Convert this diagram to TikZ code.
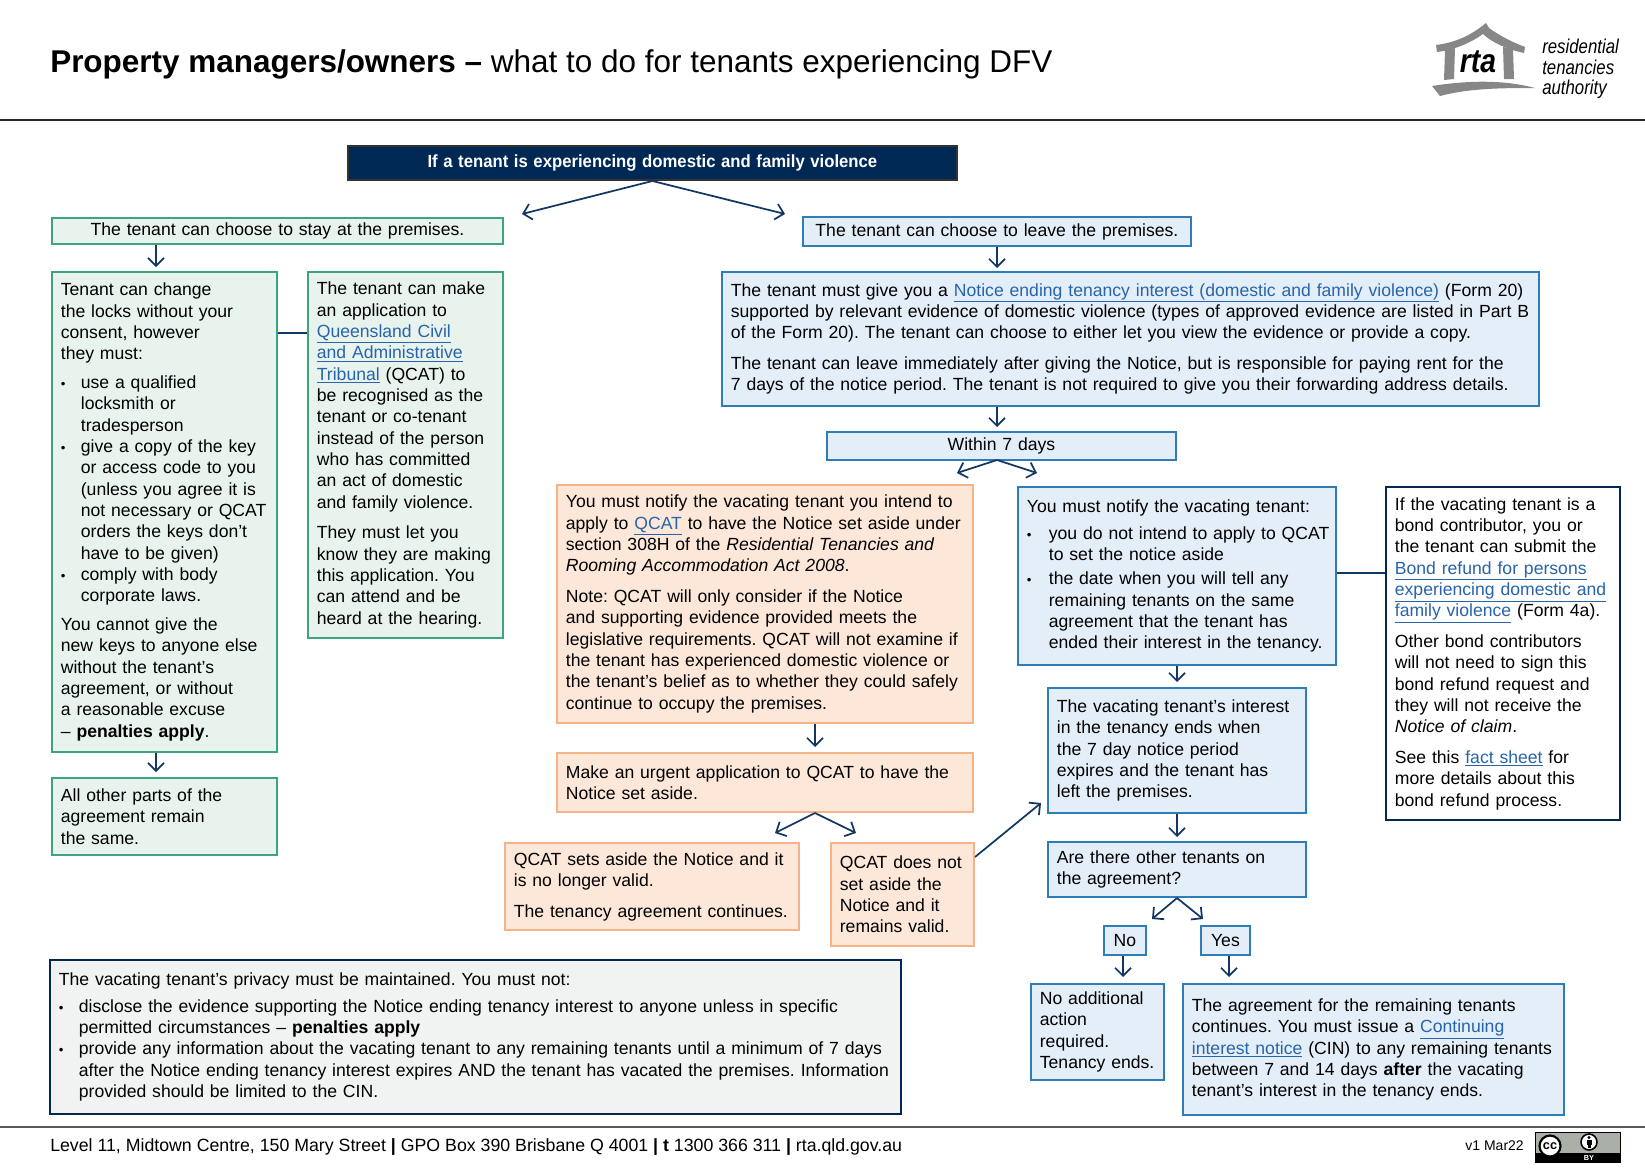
\documentclass[tikz,border=0pt]{standalone}
\usepackage{fontspec}
\setmainfont{Liberation Sans}
\usetikzlibrary{arrows.meta, positioning}
\definecolor{navy1}{RGB}{0, 40, 85}
\definecolor{arrownavy}{RGB}{18, 55, 100}
\definecolor{greenline}{RGB}{60, 165, 125}
\definecolor{greenfill}{RGB}{233, 243, 238}
\definecolor{blueline}{RGB}{45, 125, 185}
\definecolor{bluefill}{RGB}{228, 238, 248}
\definecolor{orangeline}{RGB}{245, 180, 135}
\definecolor{orangefill}{RGB}{252, 231, 217}
\definecolor{greyfill}{RGB}{241, 243, 243}
\definecolor{linkblue}{RGB}{40, 100, 170}
\definecolor{logogrey}{RGB}{135, 135, 135}
\definecolor{badgegrey}{RGB}{170, 175, 168}
\newcommand{\lnk}[1]{\textcolor{linkblue}{\underline{#1}}}
\newcommand{\blt}{\makebox[15pt][l]{\scalebox{0.75}{\textbullet}}}
\newcommand{\ind}{\hspace*{15pt}}
\newcommand{\bltw}{\makebox[16.5pt][l]{\scalebox{0.75}{\textbullet}}}
\newcommand{\indw}{\hspace*{16.5pt}}

\begin{document}
\frenchspacing
\begin{tikzpicture}[
  x=0.75pt, y=-0.75pt,
  sized/.style 2 args={anchor=north west, xshift=-0.8pt, minimum width=#1*0.75pt, minimum height=#2*0.75pt, text width=#1*0.75pt-13.4pt, inner xsep=6.7pt, inner ysep=0pt, align=left, line width=1.5pt, font=\fontsize{13.2}{16}\selectfont},
  greenbox/.style={draw=greenline, fill=greenfill},
  bluebox/.style={draw=blueline, fill=bluefill},
  orangebox/.style={draw=orangeline, fill=orangefill},
  navybox/.style={draw=navy1, fill=greyfill},
  flow/.style={draw=arrownavy, line width=1.3pt, -{Straight Barb[length=6pt,width=12pt]}},
  link/.style={draw=arrownavy, line width=1.3pt}
]
  \useasboundingbox (0,0) rectangle (1645,1174);

  % header
  \node[anchor=west, inner sep=0pt, font=\fontsize{23.6}{26}\selectfont] (title) at (50,64) {\textbf{Property managers/owners --} what to do for tenants experiencing DFV};
  \draw[line width=1pt, black!85] (0,120) -- (1645,120);

  % logo
  \fill[logogrey] (1436,45) .. controls (1460,42) and (1475,32) .. (1486,23) -- (1489,28) .. controls (1500,36) and (1512,42) .. (1525,47) -- (1524,53) .. controls (1505,49) and (1490,41) .. (1483,34) .. controls (1472,42) and (1455,50) .. (1437,52) -- cycle;
  \fill[logogrey] (1445,50) -- (1455,48) -- (1454,79) -- (1444,80) -- cycle;
  \fill[logogrey] (1503,47) -- (1513,49) -- (1514,79) -- (1504,79) -- cycle;
  \fill[logogrey] (1432,86) .. controls (1470,80) and (1505,80) .. (1535,88) .. controls (1505,88) and (1470,88) .. (1440,96) -- cycle;
  \node[inner sep=0pt, font=\fontsize{25}{25}\selectfont\bfseries\itshape] (rtaname) at (1478,62) {\scalebox{0.85}[1]{rta}};
  \node[anchor=north west, inner sep=0pt, align=left, font=\fontsize{15}{15.3}\selectfont\itshape] (rtawords) at (1542,39) {\scalebox{0.84}[1]{residential}\\\scalebox{0.84}[1]{tenancies}\\\scalebox{0.84}[1]{authority}};

  % top of the chart
  \node[sized={609}{34}, draw=black!80, fill=navy1, text=white, align=center] (head) at (348,145) {\scalebox{0.95}[1]{\textbf{If a tenant is experiencing domestic and family violence}}};
  \coordinate (stayend) at (522,214);
  \coordinate (leaveend) at (785,214);
  \draw[flow] (head.south) -- (stayend);
  \draw[flow] (head.south) -- (leaveend);

  % stay side
  \node[sized={451}{26}, greenbox, align=center] (stay) at (52,217) {The tenant can choose to stay at the premises.};
  \node[sized={225}{480}, greenbox] (locks) at (52,271) {
    Tenant can change\\
    the locks without your\\
    consent, however\\
    they must:\\[5.5pt]
    \blt use a qualified\\
    \ind locksmith or\\
    \ind tradesperson\\
    \blt give a copy of the key\\
    \ind or access code to you\\
    \ind (unless you agree it is\\
    \mbox{\ind not necessary or QCAT}\\
    \ind orders the keys don’t\\
    \ind have to be given)\\
    \blt comply with body\\
    \ind corporate laws.\\[5.5pt]
    You cannot give the\\
    new keys to anyone else\\
    without the tenant’s\\
    agreement, or without\\
    a reasonable excuse\\
    -- \textbf{penalties apply}.
  };
  \node[sized={195}{366}, greenbox] (apply) at (308,271) {
    The tenant can make\\
    an application to\\
    \lnk{Queensland Civil}\\
    \lnk{and Administrative}\\
    \lnk{Tribunal} (QCAT) to\\
    be recognised as the\\
    tenant or co-tenant\\
    \mbox{instead of the person}\\
    who has committed\\
    an act of domestic\\
    and family violence.\\[7pt]
    They must let you\\
    \mbox{know they are making}\\
    this application. You\\
    can attend and be\\
    heard at the hearing.
  };
  \node[sized={225}{77}, greenbox] (sameparts) at (52,777) {
    All other parts of the\\
    agreement remain\\
    the same.
  };
  \coordinate (locksin) at (156,267);
  \coordinate (samein) at (156,772);
  \draw[flow] (stay.south -| locksin) -- (locksin);
  \draw[flow] (locks.south -| samein) -- (samein);
  \draw[link] (locks.east |- 0,333) -- (apply.west |- 0,333);

  % leave side
  \node[sized={388}{29}, bluebox, align=center] (leave) at (803,216) {The tenant can choose to leave the premises.};
  \node[sized={817}{134}, bluebox] (form) at (722,271) {
    \mbox{The tenant must give you a \lnk{Notice ending tenancy interest (domestic and family violence)} (Form 20)}\\
    \mbox{supported by relevant evidence of domestic violence (types of approved evidence are listed in Part B}\\
    of the Form 20). The tenant can choose to either let you view the evidence or provide a copy.\\[7pt]
    \mbox{The tenant can leave immediately after giving the Notice, but is responsible for paying rent for the}\\
    \mbox{7 days of the notice period. The tenant is not required to give you their forwarding address details.}
  };
  \node[sized={349}{28}, bluebox, align=center] (within) at (827,431) {Within 7 days};
  \coordinate (formin) at (997,268);
  \coordinate (withinin) at (997,427);
  \coordinate (forkleft) at (957,473);
  \coordinate (forkright) at (1037,473);
  \coordinate (forktop) at (997,460);
  \draw[flow] (leave.south -| formin) -- (formin);
  \draw[flow] (form.south -| withinin) -- (withinin);
  \draw[flow] (forktop) -- (forkleft);
  \draw[flow] (forktop) -- (forkright);

  % orange column
  \node[sized={416}{238}, orangebox] (intend) at (557,484) {
    You must notify the vacating tenant you intend to\\
    \mbox{apply to \lnk{QCAT} to have the Notice set aside under}\\
    section 308H of the \textit{Residential Tenancies and}\\
    \textit{Rooming Accommodation Act 2008}.\\[7pt]
    Note: QCAT will only consider if the Notice\\
    and supporting evidence provided meets the\\
    \mbox{legislative requirements. QCAT will not examine if}\\
    the tenant has experienced domestic violence or\\
    \mbox{the tenant’s belief as to whether they could safely}\\
    continue to occupy the premises.
  };
  \node[sized={416}{59}, orangebox] (urgent) at (557,752) {
    Make an urgent application to QCAT to have the\\
    Notice set aside.
  };
  \node[sized={294}{87}, orangebox] (setaside) at (505,842) {
    QCAT sets aside the Notice and it\\
    is no longer valid.\\[7pt]
    \mbox{The tenancy agreement continues.}
  };
  \node[sized={143}{103}, orangebox] (notaside) at (831,842) {
    \mbox{QCAT does not}\\
    set aside the\\
    Notice and it\\
    remains valid.
  };
  \coordinate (urgentin) at (815,747);
  \coordinate (setin) at (775,833);
  \coordinate (notin) at (856,833);
  \coordinate (interestin) at (1041,803);
  \coordinate (notout) at (975,857);
  \draw[flow] (intend.south -| urgentin) -- (urgentin);
  \draw[flow] (urgent.south -| urgentin) -- (setin);
  \draw[flow] (urgent.south -| urgentin) -- (notin);
  \draw[flow] (notout) -- (interestin);

  % blue column
  \node[sized={318}{178}, bluebox] (notify) at (1018,486) {
    You must notify the vacating tenant:\\[4.5pt]
    \mbox{\bltw you do not intend to apply to QCAT}\\
    \indw to set the notice aside\\[2pt]
    \bltw the date when you will tell any\\
    \indw remaining tenants on the same\\
    \indw agreement that the tenant has\\
    \mbox{\indw ended their interest in the tenancy.}
  };
  \node[sized={234}{333}, draw=navy1, fill=white] (bond) at (1386,486) {
    If the vacating tenant is a\\
    bond contributor, you or\\
    the tenant can submit the\\
    \lnk{Bond refund for persons}\\
    \mbox{\lnk{experiencing domestic and}}\\
    \lnk{family violence} (Form 4a).\\[7pt]
    Other bond contributors\\
    will not need to sign this\\
    bond refund request and\\
    they will not receive the\\
    \textit{Notice of claim}.\\[7pt]
    See this \lnk{fact sheet} for\\
    more details about this\\
    bond refund process.
  };
  \node[sized={258}{125}, bluebox] (interest) at (1048,687) {
    \mbox{The vacating tenant’s interest}\\
    in the tenancy ends when\\
    the 7 day notice period\\
    \mbox{expires and the tenant has}\\
    left the premises.
  };
  \node[sized={258}{55}, bluebox] (others) at (1048,841) {
    Are there other tenants on\\
    the agreement?
  };
  \node[sized={42}{29}, bluebox, align=center, inner xsep=0pt, text width=31.5pt] (nobox) at (1104,925) {No};
  \node[sized={49}{29}, bluebox, align=center, inner xsep=0pt, text width=36.75pt] (yesbox) at (1201,925) {Yes};
  \node[sized={133}{96}, bluebox] (noaction) at (1031,983) {
    No additional\\
    action\\
    required.\\
    \mbox{Tenancy ends.}
  };
  \node[sized={381}{131}, bluebox] (agreement) at (1183,983) {
    The agreement for the remaining tenants\\
    continues. You must issue a \lnk{Continuing}\\
    \mbox{\lnk{interest notice} (CIN) to any remaining tenants}\\
    between 7 and 14 days \textbf{after} the vacating\\
    tenant’s interest in the tenancy ends.
  };
  \coordinate (interestarrow) at (1177,682);
  \coordinate (othersarrow) at (1177,837);
  \coordinate (noin) at (1152,919);
  \coordinate (yesin) at (1203,919);
  \coordinate (noactionin) at (1123,977);
  \coordinate (agreementin) at (1229,977);
  \draw[link] (notify.east |- 0,573) -- (bond.west |- 0,573);
  \draw[flow] (notify.south -| interestarrow) -- (interestarrow);
  \draw[flow] (interest.south -| othersarrow) -- (othersarrow);
  \draw[flow] (others.south -| othersarrow) -- (noin);
  \draw[flow] (others.south -| othersarrow) -- (yesin);
  \draw[flow] (nobox.south -| noactionin) -- (noactionin);
  \draw[flow] (yesbox.south -| agreementin) -- (agreementin);

  % privacy note
  \node[sized={851}{154}, navybox] (privacy) at (50,959) {
    The vacating tenant’s privacy must be maintained. You must not:\\[4pt]
    \mbox{\blt disclose the evidence supporting the Notice ending tenancy interest to anyone unless in specific}\\
    \ind permitted circumstances -- \textbf{penalties apply}\\
    \mbox{\blt provide any information about the vacating tenant to any remaining tenants until a minimum of 7 days}\\
    \mbox{\ind after the Notice ending tenancy interest expires AND the tenant has vacated the premises. Information}\\
    \ind provided should be limited to the CIN.
  };

  % footer
  \draw[line width=0.8pt, black!65] (0,1127) -- (1645,1127);
  \node[anchor=west, inner sep=0pt, font=\fontsize{13.3}{15}\selectfont] (address) at (50,1147) {Level 11, Midtown Centre, 150 Mary Street \textbf{|} GPO Box 390 Brisbane Q 4001 \textbf{| t} 1300 366 311 \textbf{|} rta.qld.gov.au};
  \node[anchor=east, inner sep=0pt, font=\fontsize{10.5}{12}\selectfont] (version) at (1524,1146) {v1 Mar22};

  % licence badge
  \fill[badgegrey] (1535,1132) rectangle (1620,1162);
  \fill[black] (1535,1153) rectangle (1620,1162);
  \draw[line width=0.6pt, black] (1535,1132) rectangle (1620,1162);
  \filldraw[fill=white, draw=black, line width=1.6pt] (1550,1146) circle (10.5);
  \node[inner sep=0pt, font=\fontsize{9.5}{10}\selectfont\bfseries] (ccmark) at (1550,1146) {cc};
  \filldraw[fill=white, draw=black, line width=1.2pt] (1589,1142) circle (8);
  \fill[black] (1589,1137.5) circle (1.6);
  \fill[black] (1586.5,1140) rectangle (1591.5,1144.5);
  \fill[black] (1587.5,1144) rectangle (1590.5,1148);
  \node[inner sep=0pt, text=white, font=\fontsize{5.5}{6}\selectfont\bfseries] (bymark) at (1589,1157.5) {BY};
\end{tikzpicture}
\end{document}
